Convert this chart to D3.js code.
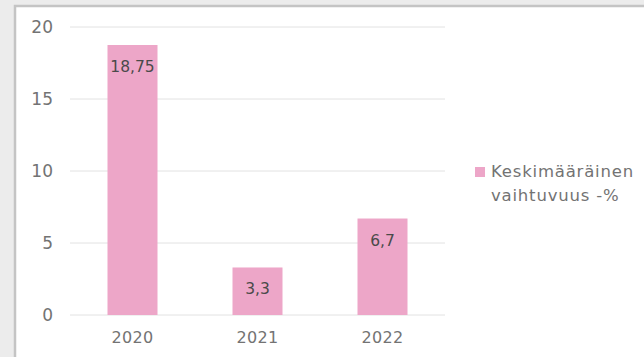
<!DOCTYPE html>
<html>
<head>
<meta charset="utf-8">
<style>
  body { margin: 0; background: #ececec; }
  svg { display: block; }
</style>
</head>
<body>
<svg width="644" height="357" font-family="DejaVu Sans, sans-serif"></svg>
<script src="https://d3js.org/d3.v7.min.js"></script>
<script>

    var years = ["2020", "2021", "2022"];
    var values = [18.75, 3.3, 6.7];
    var labels = ["18,75", "3,3", "6,7"];
    var yTicks = [0, 5, 10, 15, 20];
    var legendLines = ["Keskimääräinen", "vaihtuvuus -%"];

    var svg = d3.select("svg"),
        width = +svg.attr("width"),
        height = +svg.attr("height");

    // white panel with grey frame
    svg.append("rect")
        .attr("x", 15).attr("y", 6)
        .attr("width", width).attr("height", height)
        .attr("fill", "#fff")
        .attr("stroke", "#c4c4c4")
        .attr("stroke-width", 2.5);

    var x = d3.scaleBand()
        .domain(years)
        .range([70, 445])
        .paddingInner(0.6)
        .paddingOuter(0.3);

    var y = d3.scaleLinear()
        .domain([0, 20])
        .range([315, 27]);

    // grid
    svg.append("g")
        .selectAll("line")
        .data(yTicks)
        .enter().append("line")
        .attr("x1", 70).attr("x2", 445)
        .attr("y1", function(d) { return y(d); })
        .attr("y2", function(d) { return y(d); })
        .attr("stroke", "#e2e2e2")
        .attr("stroke-width", 1);

    var yAxis = svg.append("g")
        .attr("transform", "translate(53,0)")
        .call(d3.axisLeft(y).tickValues(yTicks).tickSize(0).tickPadding(0));
    yAxis.select(".domain").remove();
    yAxis.selectAll("text")
        .attr("font-size", 17)
        .attr("font-family", "DejaVu Sans, sans-serif")
        .attr("fill", "#737373");

    var xAxis = svg.append("g")
        .attr("transform", "translate(0,315)")
        .call(d3.axisBottom(x).tickSize(0).tickPadding(17));
    xAxis.select(".domain").remove();
    xAxis.selectAll("text")
        .attr("font-size", 16)
        .attr("letter-spacing", 0.3)
        .attr("font-family", "DejaVu Sans, sans-serif")
        .attr("fill", "#737373");

    var data = years.map(function(d, i) { return {year: d, value: values[i], label: labels[i]}; });

    svg.append("g")
        .selectAll("rect")
        .data(data)
        .enter().append("rect")
        .attr("x", function(d) { return x(d.year); })
        .attr("y", function(d) { return y(d.value); })
        .attr("width", x.bandwidth())
        .attr("height", function(d) { return y(0) - y(d.value); })
        .attr("fill", "#eda6c8");

    svg.append("g")
        .selectAll("text")
        .data(data)
        .enter().append("text")
        .attr("x", function(d) { return x(d.year) + x.bandwidth() / 2; })
        .attr("y", function(d) { return y(d.value) + 27; })
        .attr("text-anchor", "middle")
        .attr("font-size", 15.5)
        .attr("fill", "#4a4a4a")
        .text(function(d) { return d.label; });

    // legend
    var legend = svg.append("g");
    legend.append("rect")
        .attr("x", 475).attr("y", 167)
        .attr("width", 10).attr("height", 10)
        .attr("fill", "#eda6c8");
    legend.append("text")
        .attr("font-size", 16.5)
        .attr("letter-spacing", 0.8)
        .attr("fill", "#737373")
        .selectAll("tspan")
        .data(legendLines)
        .enter().append("tspan")
        .attr("x", 491)
        .attr("y", function(d, i) { return 177 + i * 24; })
        .text(function(d) { return d; });

</script>
</body>
</html>
